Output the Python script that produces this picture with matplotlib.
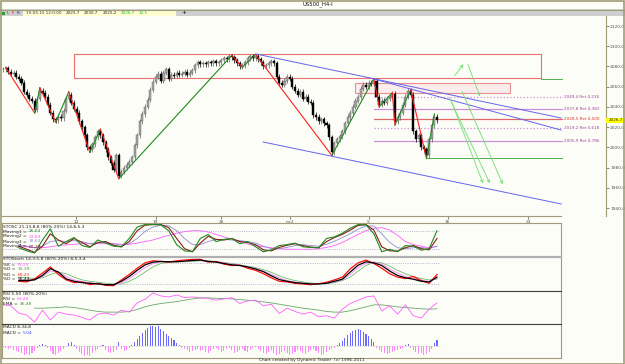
import matplotlib.pyplot as plt
from matplotlib.patches import Rectangle
import numpy as np

W, H = 625, 364
BG = '#fdfdf8'
PX_PER_BAR = 2.63
XMIN = -0.4

# ---- price data (H4 closes) ----
closes = [2077, 2078, 2075, 2073, 2074, 2070, 2068, 2064, 2055, 2052, 2048, 2046, 2037, 2048, 2056,
          2054, 2050, 2042, 2034, 2028, 2027,
          2030, 2029, 2036, 2048, 2052,
          2044, 2038, 2034, 2026, 2020, 2012, 2000, 1998, 2003, 2010, 2016,
          2012, 2005, 1998, 1990, 1985, 1978, 1992, 1972,
          1976, 1980, 1983, 1986, 1990, 2002, 2012, 2026, 2033, 2040, 2047, 2057, 2065, 2070, 2073,
          2066, 2074, 2077, 2068, 2072,
          2071, 2074, 2072, 2073, 2075, 2072, 2074, 2076, 2081, 2084, 2082, 2083, 2082, 2084, 2083,
          2085, 2083, 2084, 2086, 2088, 2087, 2090, 2089, 2086, 2083, 2080, 2081, 2084, 2088, 2090,
          2088, 2090,
          2087, 2084, 2080, 2081, 2083, 2085, 2083, 2070, 2064, 2062, 2066, 2070, 2068, 2060, 2056,
          2052, 2055, 2048, 2050, 2045, 2044, 2032, 2030, 2026, 2028, 2024, 2022, 2010, 1995,
          2004, 2008, 2011, 2016, 2024, 2030, 2034, 2040, 2046, 2050, 2058, 2062, 2060, 2064, 2063,
          2066,
          2050, 2042, 2046, 2044, 2048, 2050, 2053, 2026, 2030, 2034, 2042, 2050, 2056, 2052, 2016,
          2008, 2012, 2000, 1998, 1992, 2008, 2022, 2030, 2026.7]

week_bars = [27.8, 58, 83, 109, 139, 169, 199.6]
week_labels = ['12', '19', '26', 'mr2', '9', '16', '23']
price_ticks = [1940, 1960, 1980, 2000, 2020, 2040, 2060, 2080, 2100, 2120]

# zigzag pivots
zz_bars = [1, 12, 14, 20, 25, 33, 37, 44, 87, 91, 96, 125, 141, 143, 148, 149, 155, 161, 164]
zz_prices = [2079, 2034, 2059, 2025, 2055, 1995, 2018, 1969, 2091, 2079, 2092, 1992, 2068,
             2040, 2054, 2022, 2057, 1989, 2033]

# fibonacci retracements
fib_ratios = ['0,236', '0,382', '0,500', '0,618', '0,786']
fib_prices = [2049.4, 2037.8, 2028.5, 2019.2, 2005.9]
fib_start = 141
swing_high, swing_low = 2068, 1989

# channel lines (start bar, end bar, start price, end price)
chan_x = [(96.2, 212.2), (141, 212.2), (98.9, 212.2)]
chan_y = [(2092.3, 2029.0), (2067.6, 2017.1), (2005.3, 1944.0)]

# green projection arrows
arrow_from = [(171.1, 2068.6), (176.4, 2084.4), (174.1, 2057.7), (169.2, 2051.7), (170.3, 2046.8)]
arrow_to = [(175.7, 2084.4), (181.7, 2047.8), (190.5, 1960.8), (185.6, 1961.7), (182.9, 1961.7)]

# zones
zone_big = (27, 204.6, 2068.6, 2092.3)
zone_small = (134, 192.8, 2054.0, 2063.8)

# ---- indicators ----
osc_bars = list(range(6, 166, 3))
stosc_green = [25, 15, 8, 50, 86, 30, 45, 58, 32, 26, 50, 40, 30, 28, 55, 92, 100, 100, 99, 80,
               35, 15, 12, 55, 68, 45, 52, 55, 38, 45, 28, 12, 18, 32, 35, 40, 28, 26, 25, 55,
               60, 72, 88, 100, 99, 70, 12, 20, 12, 32, 30, 17, 22, 80]
stosc_red = [30, 20, 10, 30, 70, 50, 38, 55, 42, 28, 42, 45, 33, 28, 45, 80, 98, 100, 100, 90,
             55, 22, 12, 40, 62, 52, 50, 55, 45, 42, 35, 18, 15, 26, 33, 38, 32, 27, 25, 45,
             58, 68, 82, 97, 100, 82, 28, 15, 14, 25, 32, 22, 18, 55]
stosc_blue = [35, 30, 25, 30, 45, 48, 45, 48, 45, 38, 40, 42, 38, 33, 38, 55, 78, 92, 98, 96,
              80, 55, 35, 35, 45, 52, 52, 50, 48, 45, 40, 30, 22, 22, 26, 32, 35, 32, 30, 36,
              46, 58, 70, 85, 96, 95, 70, 42, 25, 22, 25, 26, 22, 30]
stosc_pink = [30, 28, 25, 25, 28, 32, 34, 36, 38, 38, 38, 38, 38, 36, 36, 40, 45, 50, 58, 65,
              72, 77, 80, 80, 76, 68, 60, 52, 44, 37, 32, 28, 25, 22, 20, 20, 20, 20, 22, 26,
              32, 42, 55, 68, 80, 88, 90, 82, 65, 45, 35, 30, 25, 30]

stoch_black = [30, 30, 32, 45, 65, 55, 35, 28, 24, 22, 20, 18, 18, 28, 42, 60, 76, 84, 86, 85,
               85, 87, 89, 90, 86, 84, 80, 76, 74, 70, 64, 56, 44, 33, 28, 24, 22, 20, 20, 22,
               28, 34, 55, 75, 85, 82, 74, 58, 45, 38, 34, 28, 26, 40]
stoch_red = [28, 26, 35, 52, 70, 48, 32, 24, 26, 18, 22, 16, 15, 32, 48, 66, 82, 88, 86, 84,
             88, 90, 92, 92, 84, 86, 78, 74, 75, 66, 60, 50, 38, 28, 26, 22, 20, 18, 21, 25,
             32, 40, 64, 82, 90, 80, 66, 50, 40, 36, 42, 30, 22, 48]
stoch_green = [40, 38, 36, 38, 48, 55, 50, 40, 32, 28, 25, 22, 20, 20, 28, 40, 55, 70, 80, 84,
               85, 85, 86, 88, 88, 86, 83, 80, 76, 72, 68, 62, 54, 44, 36, 30, 26, 23, 21, 21,
               24, 30, 40, 58, 74, 84, 82, 72, 60, 50, 42, 36, 32, 34]
stoch_pink = [32, 31, 33, 42, 58, 56, 42, 32, 27, 24, 21, 19, 18, 24, 36, 52, 68, 80, 85, 86,
              86, 87, 88, 89, 87, 85, 82, 78, 75, 71, 66, 58, 48, 38, 30, 26, 23, 21, 20, 22,
              26, 32, 48, 68, 80, 84, 78, 64, 52, 42, 36, 31, 28, 36]

rsi_bars = list(range(0, 166, 3))
rsi = [58, 55, 33, 27, 6, 42, 12, 36, 30, 27, 20, 12, 30, 33, 27, 42, 36, 64, 75, 94,
       85, 82, 88, 80, 82, 79, 78, 72, 76, 80, 62, 70, 72, 55, 60, 32, 48, 38, 30, 36,
       22, 25, 18, 45, 62, 72, 82, 85, 40, 55, 30, 58, 25, 18, 45, 64]
ema_bars = list(range(12, 166, 3))
rsi_ema = [48, 48, 49, 50, 52, 50, 46, 42, 38, 36, 36, 36, 38, 44, 52, 58, 62, 65, 68, 72,
           76, 79, 79, 78, 77, 76, 74, 72, 70, 67, 64, 60, 56, 52, 48, 45, 42, 38, 36, 36,
           40, 46, 52, 58, 58, 55, 52, 50, 48, 46, 45, 46]

macd_hist = [-1, -2, -3, -2, -4, -5,
             -6, -7, -9, -8, -9, -7, -5,
             -2, 1, 2, 1, -2,
             -5, -8, -9, -7, -5, -3, -1,
             3, 4, 1,
             -3, -6, -8, -10, -9, -10, -7, -5, -3,
             -1, 1,
             -4, -6, -7, -6, -4,
             4,
             -3, -5, -4, -2, 1,
             4, 7, 10, 13, 16, 18, 20, 20, 19, 20,
             17, 15, 12, 10, 8, 6, 3,
             1, -2, -3, -4, -6, -5, -4, -3, -5,
             -4, -6, -7, -5, -3, -2, -4, -6, -5, -3, -2, -4, -7, -6, -4, -3, -5, -6, -4, -2,
             -1, -3, -5, -7, -8, -6, -4, -7, -9, -8, -6, -5, -7, -9, -8, -6, -4, -5, -7, -8,
             -6, -4, -3, -5, -7, -9, -8, -6, -4, -3, -2, 1, 3,
             5, 8, 11, 13, 15, 16, 17, 16, 14, 12, 10, 7, 4,
             -2, -4, -6, -7, -8, -7, -6, -5, -4, -3, -2, 1,
             2,
             -2, -4, -6, -8, -7, -9, -8, -6, -3,
             3, 6]

GREEN = '#1f8a1f'
DARKRED = '#8b1c1c'
LAVENDER = '#8c8cd8'
MAGENTA = '#ff5cff'
FRAME = '#a09c78'

fig = plt.figure(figsize=(6.25, 3.64), dpi=100)
fig.patch.set_facecolor(BG)


def box(x0, y0, x1, y1):
    return [x0 / W, 1 - y1 / H, (x1 - x0) / W, (y1 - y0) / H]


def label(x, y, s, color='#202020', size=3.2, ha='left'):
    return fig.text(x / W, 1 - y / H, s, color=color, fontsize=size, va='center', ha=ha)


def fmt(v):
    return f'{v:.1f}'.replace('.', ',')


# ---- main price chart ----
ax = fig.add_axes(box(2, 16, 606, 216))
ax.set_facecolor(BG)
ax.set_xlim(XMIN, XMIN + 604 / PX_PER_BAR)
ax.set_ylim(1932.1, 2129.9)
for side in ['top', 'left']:
    ax.spines[side].set_visible(False)
ax.spines['right'].set_color(FRAME)
ax.spines['bottom'].set_color(FRAME)
ax.spines['bottom'].set_bounds(XMIN, XMIN + 559 / PX_PER_BAR)
ax.yaxis.tick_right()
ax.set_yticks(price_ticks)
ax.set_yticklabels([fmt(t) for t in price_ticks])
ax.set_xticks(week_bars)
ax.set_xticklabels(week_labels)
ax.tick_params(axis='both', length=2, width=0.5, labelsize=3.2, colors='#555555', pad=1)

# zones
x0, x1, y0, y1 = zone_big
ax.add_patch(Rectangle((x0, y0), x1 - x0, y1 - y0, fill=False, ec='#e87070', lw=0.8, zorder=1))
x0, x1, y0, y1 = zone_small
ax.add_patch(Rectangle((x0, y0), x1 - x0, y1 - y0, fc='#fcecec', ec='#e89090', lw=0.8, zorder=1))

# candles
c = np.array(closes, dtype=float)
bars = np.arange(len(c))
o = np.concatenate([[c[0]], c[:-1]])
up = c >= o
hi = np.maximum(o, c) + 2.5
lo = np.minimum(o, c) - 2.5
ax.vlines(bars[up], lo[up], hi[up], color='#606060', lw=0.5, zorder=3)
ax.vlines(bars[~up], lo[~up], hi[~up], color='#000000', lw=0.5, zorder=3)
body = np.where(np.abs(c - o) < 0.8, 0.8, c - o)
ax.bar(bars[up], body[up], bottom=o[up], width=0.8, color='#a8a8a8', edgecolor='#555555', lw=0.3, zorder=4)
ax.bar(bars[~up], body[~up], bottom=o[~up], width=0.8, color='#000000', edgecolor='#000000', lw=0.3, zorder=4)

# zigzag
for i in range(len(zz_bars) - 1):
    col = '#ff2020' if zz_prices[i + 1] < zz_prices[i] else GREEN
    ax.plot(zz_bars[i:i + 2], zz_prices[i:i + 2], color=col, lw=0.8, zorder=5)

# fib levels
fib_end = XMIN + 560 / PX_PER_BAR
fib_styles = [(':', '#c890d8'), ('-', '#c890d8'), ('-', '#e06868'), (':', '#c890d8'), ('-', '#c890d8')]
for p, r, (ls, col) in zip(fib_prices, fib_ratios, fib_styles):
    ax.plot([fib_start, fib_end], [p, p], ls=ls, color=col, lw=0.9, zorder=2)
    tcol = '#e03030' if r == '0,500' else '#a040a0'
    ax.text(fib_end + 0.6, p, f'{fmt(p)} Ret {r}', fontsize=3.0, color=tcol, va='center', ha='left')
ax.plot([zone_big[1], fib_end], [swing_high, swing_high], color='#50b050', lw=0.7, zorder=2)
ax.plot([zz_bars[-2], fib_end], [swing_low, swing_low], color='#50b050', lw=0.7, zorder=2)

# channel
for xs, ys in zip(chan_x, chan_y):
    ax.plot(xs, ys, color='#6464ee', lw=0.7, zorder=6)

# projection arrows
for s, e in zip(arrow_from, arrow_to):
    ax.annotate('', xy=e, xytext=s,
                arrowprops=dict(arrowstyle='->', color='#7fe07f', lw=0.7, mutation_scale=5),
                zorder=7)

# current price marker
fig.add_artist(Rectangle(((606) / W, 1 - 122.5 / H), 19 / W, 5 / H,
                         transform=fig.transFigure, fc='#ffff00', ec='none'))
label(609, 120, fmt(closes[-1]), color='#333333', size=3.0)

# ---- indicator panels ----
IND_XMAX = XMIN + 559 / PX_PER_BAR


def panel(y0, y1, ylim):
    a = fig.add_axes(box(2, y0, 561, y1))
    a.set_facecolor(BG)
    a.set_xlim(XMIN, IND_XMAX)
    a.set_ylim(*ylim)
    a.set_xticks([])
    a.set_yticks([])
    for s in a.spines.values():
        s.set_color(FRAME)
        s.set_linewidth(0.8)
    return a


last = len(closes)

a1 = panel(223, 257, (-5, 105))
for lvl in (20, 80):
    a1.plot([0, last], [lvl, lvl], ls=':', color='#a0a0c8', lw=0.6)
a1.plot(osc_bars, stosc_pink, color=MAGENTA, lw=0.6)
a1.plot(osc_bars, stosc_blue, color=LAVENDER, lw=0.6)
a1.plot(osc_bars, stosc_red, color=DARKRED, lw=0.8)
a1.plot(osc_bars, stosc_green, color=GREEN, lw=0.8)

a2 = panel(257, 291, (-0.5, 99))
a2.spines['top'].set_color('#b0b0b0')
a2.spines['top'].set_linewidth(1.6)
for lvl in (20, 80):
    a2.plot([0, last], [lvl, lvl], ls=':', color='#a0a0c8', lw=0.6)
a2.plot(osc_bars, stoch_green, color='#6cc06c', lw=0.6)
a2.plot(osc_bars, stoch_pink, color='#ff80ff', lw=0.6)
a2.plot(osc_bars, stoch_red, color='#ff1010', lw=0.9)
a2.plot(osc_bars, stoch_black, color='#000000', lw=0.9)

a3 = panel(291, 324, (0, 100))
a3.spines['top'].set_color('#404040')
a3.plot(ema_bars, rsi_ema, color='#66a866', lw=0.6)
a3.plot(rsi_bars, rsi, color=MAGENTA, lw=0.6)

a4 = panel(324, 358, (-12, 22))
a4.spines['top'].set_color('#404040')
hist = np.array(macd_hist, dtype=float)
hx = np.arange(len(hist))
pos = hist >= 0
a4.bar(hx[pos], hist[pos], width=0.4, color='#6a6aff')
a4.bar(hx[~pos], hist[~pos], width=0.4, color='#ff88ff')
a4.plot([0, last], [0, 0], ls=':', color='#b0b0b0', lw=0.5)

# ---- texts ----
renderer = fig.canvas.get_renderer()


def pair(x, y, name, value, vcolor):
    t = label(x, y, name)
    bb = t.get_window_extent(renderer)
    label(x + bb.width + 0.5, y, value, color=vcolor)


label(3, 226.5, 'STOSC 21,13,8,8 (80%-20%) 14,8,5,3')
pair(3, 231.5, 'Moving1 = ', '26,64', GREEN)
pair(3, 236.5, 'Moving2 = ', '23,89', MAGENTA)
pair(3, 241.5, 'Moving3 = ', '78,64', LAVENDER)
pair(3, 246.5, 'Moving4 = ', '60,29', DARKRED)

label(3, 259.5, 'STOStoch 14,3,5,8 (80%-20%) 8,5,3,4')
pair(3, 264.5, '%K = ', '79,29', MAGENTA)
pair(3, 269.5, '%D = ', '30,39', '#40a040')
pair(3, 274.5, '%D = ', '60,21', '#ff1010')
pair(3, 279.5, '%D = ', '56,43', '#000000')

label(3, 294, 'RSI 5,50 (80%-20%)')
pair(3, 299, 'RSI = ', '64,48', MAGENTA)
pair(3, 304, 'EMA = ', '46,48', '#40a040')

label(3, 327.5, 'MACD 8,34,8')
pair(3, 332.5, 'MACD = ', '5,04', '#4040ff')

label(312, 360.5, 'Chart created by Dynamic Trader  (c) 1996-2011', size=3.2, ha='center')

# ---- header ----
label(318, 4.5, 'US500_H4-I', size=3.8, ha='center', color='#101010')
fig.add_artist(Rectangle((0, 1 - 16 / H), 1, 6.5 / H, transform=fig.transFigure,
                         fc='#cfcfcf', ec='none'))
fig.add_artist(Rectangle((23 / W, 1 - 16 / H), 153 / W, 6 / H, transform=fig.transFigure,
                         fc='#ffffd2', ec='none'))
fig.add_artist(plt.Line2D([0, 1], [1 - 9.5 / H, 1 - 9.5 / H], transform=fig.transFigure,
                          color=FRAME, lw=0.8))
fig.add_artist(Rectangle((2 / W, 1 - 14.5 / H), 3 / W, 3 / H, transform=fig.transFigure,
                         fc='#20a020', ec='none'))
label(7, 13, 'L', size=3.2, color='#404040')
label(12, 13, 'F', size=3.2, color='#d02020')
label(17, 13, 'R', size=3.2, color='#2020d0')
hx0 = 26
for s, col in [('19-03-15 12:0:00', '#303030'), ('2025,7', '#303030'), ('2030,7', '#303030'),
               ('2025,2', '#303030'), ('2026,7', '#30b030'), ('10,5', '#30b030')]:
    t = label(hx0, 13, s, color=col, size=3.0)
    hx0 += t.get_window_extent(renderer).width + 4
label(181, 13, '+', size=4, color='#000000')

# outer frame
fig.add_artist(Rectangle((0.5 / W, 0.5 / H), 1 - 1.5 / W, 1 - 1.5 / H, transform=fig.transFigure,
                         fill=False, ec=FRAME, lw=1.2))

fig.savefig('out.png', dpi=100, facecolor=fig.get_facecolor())
